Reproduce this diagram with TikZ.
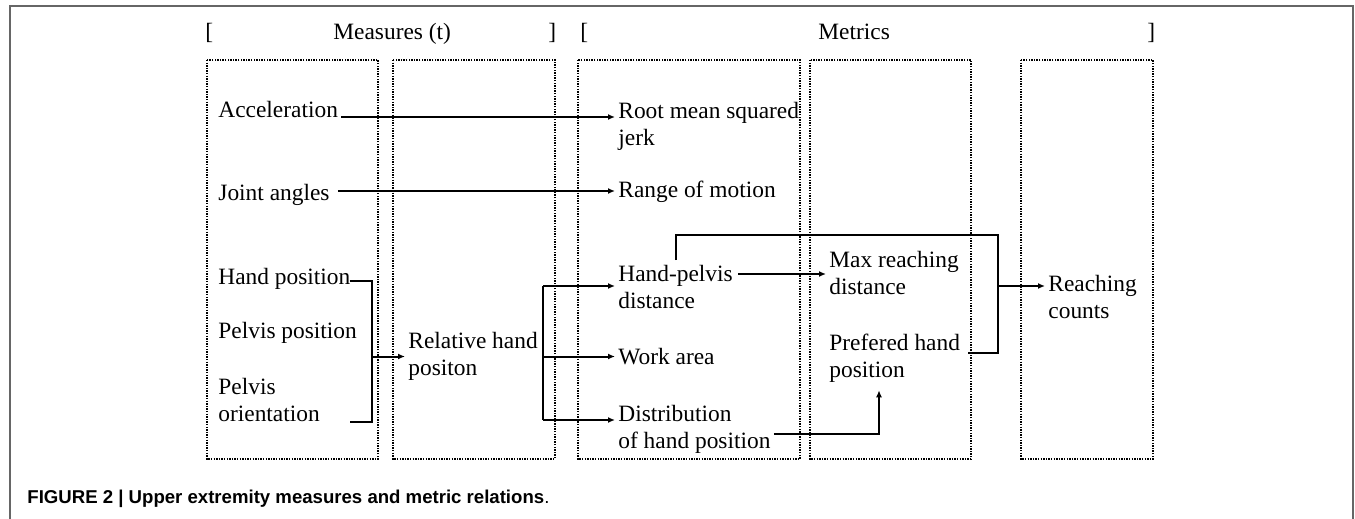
\documentclass[tikz,border=0pt]{standalone}
\usepackage{fontspec}
\setmainfont{Liberation Serif}
\newfontfamily\capfont{Liberation Sans}
\usetikzlibrary{calc, positioning, arrows.meta}
\tikzset{
	every node/.style={inner xsep=1.5pt, inner ysep=0pt, font=\fontsize{11.7}{13.5}\selectfont},
	lbl/.style={anchor=north west, align=left},
	head/.style={anchor=base west},
	grp/.style={line width=0.7pt, dash pattern=on 0.7pt off 0.6pt},
	link/.style={line width=1pt},
	arr/.style={link, -{Latex[length=3.5pt,width=3pt]}}
}

\begin{document}
\begin{tikzpicture}[x=0.5pt, y=-0.5pt]
			\useasboundingbox (0,0) rectangle (1355,519);
			\draw[black!60, line width=1pt] (9.5,519) -- (9.5,6.5) -- (1353,6.5) -- (1353,519);
			\node[head] (mopen) at (202,40) {[};
			\node[head] (mtitle) at (330,40) {Measures (t)};
			\node[head] (mclose) at (545,40) {]};
			\node[head] (kopen) at (577,40) {[};
			\node[head] (ktitle) at (815,40) {Metrics};
			\node[head] (kclose) at (1144,40) {]};
			\draw[grp] (207,60) rectangle (378,459);
			\draw[grp] (393,60) rectangle (555,459);
			\draw[grp] (578,60) rectangle (800,459);
			\draw[grp] (810,60) rectangle (971,459);
			\draw[grp] (1021,60) rectangle (1153,459);
			\node[lbl] (acc) at (215,101) {Acceleration};
			\node[lbl] (rms) at (615,102) {Root mean squared\\jerk};
			\node[lbl] (ja) at (215,184) {Joint angles};
			\node[lbl] (rom) at (615,181) {Range of motion};
			\node[lbl] (hp) at (215,268) {Hand position};
			\node[lbl] (pp) at (215,322) {Pelvis position};
			\node[lbl] (po) at (215,378) {Pelvis\\orientation};
			\node[lbl] (rel) at (405,332) {Relative hand\\positon};
			\node[lbl] (hpd) at (615,265) {Hand-pelvis\\distance};
			\node[lbl] (wa) at (615,348) {Work area};
			\node[lbl] (dist) at (615,405) {Distribution\\of hand position};
			\node[lbl] (mrd) at (826,251) {Max reaching\\distance};
			\node[lbl] (phd) at (826,334) {Prefered hand\\position};
			\node[lbl] (rc) at (1045,275) {Reaching\\counts};
			\coordinate (accout) at ($(acc.north east)+(0,16)$);
			\draw[arr] (accout) -- (accout -| rms.west);
			\coordinate (jaout) at ($(ja.north east)+(5,7)$);
			\draw[arr] (jaout) -- (jaout -| rom.west);
			\coordinate (brk) at ($(rel.west)+(-33,0)$);
			\coordinate (hpout) at ($(hp.north east)+(-4,13)$);
			\draw[link] (hpout) -| (brk) |- (hpout |- po.south);
			\draw[arr] (brk) -- (rel.west);
			\coordinate (fork) at ($(rel.east)+(2,0)$);
			\coordinate (hpdin) at ($(hpd.north west)+(0,21)$);
			\coordinate (distin) at ($(dist.north west)+(0,15)$);
			\draw[link] (fork |- hpdin) -- (fork |- distin);
			\draw[arr] (fork |- hpdin) -- (hpdin);
			\draw[arr] (fork) -- (fork -| wa.west);
			\draw[arr] (fork |- distin) -- (distin);
			\coordinate (hpdout) at ($(hpd.north west)+(123,9)$);
			\draw[arr] (hpdout) -- (hpdout -| mrd.west);
			\coordinate (distout) at ($(dist.north east)+(0,29)$);
			\coordinate (phdin) at ($(phd.south west)+(53,7)$);
			\draw[arr] (distout) -| (phdin);
			\coordinate (rcin) at ($(rc.north west)+(-47,11)$);
			\draw[link] ($(hpd.north)+(0,-5)$) -- ++(0,-25) -| (rcin) |- ($(phd.north east)+(5,19)$);
			\draw[arr] (rcin) -- (rcin -| rc.west);
			\node[anchor=base west, inner sep=0pt, font=\capfont\fontsize{9.3}{11}\selectfont] (cap) at (27,503) {\textbf{FIGURE 2 | Upper extremity measures and metric relations}.};
		\end{tikzpicture}
\end{document}
